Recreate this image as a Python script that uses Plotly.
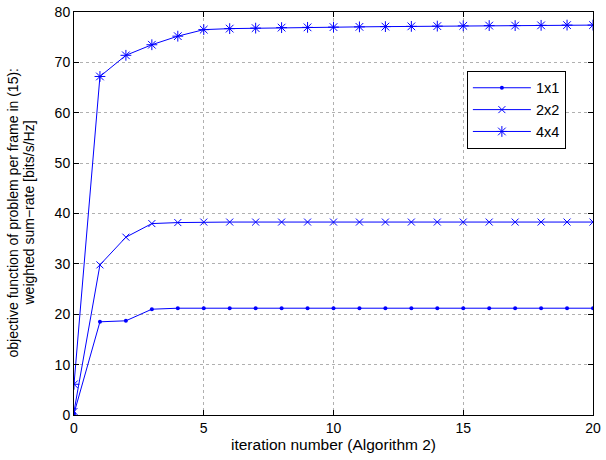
import plotly.graph_objects as go

iterations = list(range(0, 21))
rate_1x1 = [0.3, 18.5, 18.7, 21.0, 21.2, 21.2, 21.2, 21.2, 21.2, 21.2, 21.2,
            21.2, 21.2, 21.2, 21.2, 21.2, 21.2, 21.2, 21.2, 21.2, 21.2]
rate_2x2 = [0.7, 29.8, 35.3, 38.0, 38.2, 38.3, 38.3, 38.3, 38.3, 38.3, 38.3,
            38.3, 38.3, 38.3, 38.3, 38.3, 38.3, 38.3, 38.3, 38.3, 38.3]
rate_4x4 = [6.1, 67.2, 71.4, 73.5, 75.2, 76.5, 76.7, 76.8, 76.9, 76.95, 77.0,
            77.05, 77.1, 77.15, 77.2, 77.25, 77.3, 77.3, 77.35, 77.4, 77.4]
series_names = ["1x1", "2x2", "4x4"]
x_ticks = [0, 5, 10, 15, 20]
y_ticks = [0, 10, 20, 30, 40, 50, 60, 70, 80]
y_title_lines = ["objective function of problem per frame in (15):",
                 "weighted sum\u2212rate [bits/s/Hz]"]

blue = "#0000FF"
fig = go.Figure()
fig.add_trace(go.Scatter(x=iterations, y=rate_1x1, name=series_names[0], mode="lines+markers",
                         line=dict(color=blue, width=1),
                         marker=dict(symbol="circle", size=4, color=blue)))
fig.add_trace(go.Scatter(x=iterations, y=rate_2x2, name=series_names[1], mode="lines+markers",
                         line=dict(color=blue, width=1),
                         marker=dict(symbol="x-thin-open", size=7, color=blue,
                                     line=dict(color=blue, width=1))))
fig.add_trace(go.Scatter(x=iterations, y=rate_4x4, name=series_names[2], mode="lines+markers",
                         line=dict(color=blue, width=1),
                         marker=dict(symbol="asterisk-open", size=9, color=blue,
                                     line=dict(color=blue, width=1))))

axis_common = dict(
    showline=True, linecolor="black", linewidth=1, mirror="allticks",
    ticks="inside", ticklen=5, tickcolor="black",
    showgrid=True, gridcolor="#b0b0b0", griddash="dot", gridwidth=1,
    zeroline=False, tickfont=dict(size=14, color="black"),
)
fig.update_xaxes(range=[0, 20], tickvals=x_ticks,
                 title=dict(text="iteration number (Algorithm 2)", font=dict(size=15.5, color="black"), standoff=2),
                 **axis_common)
fig.update_yaxes(range=[0, 80], tickvals=y_ticks, **axis_common)

for i, line in enumerate(y_title_lines):
    fig.add_annotation(text=line, xref="paper", yref="paper", x=0, y=0.5,
                       xanchor="center", yanchor="middle", textangle=-90,
                       xshift=-(62 - 16 * i), showarrow=False,
                       font=dict(size=14, color="black"))

fig.update_layout(
    width=606, height=460,
    margin=dict(l=74, r=13, t=12, b=45, autoexpand=False),
    paper_bgcolor="white", plot_bgcolor="white",
    font=dict(family="Liberation Sans, Arial, sans-serif", size=14, color="black"),
    legend=dict(x=0.757, y=0.854, xanchor="left", yanchor="top",
                bgcolor="white", bordercolor="black", borderwidth=1,
                font=dict(size=14.5), tracegroupgap=0, itemwidth=58),
    showlegend=True,
)

fig.write_html("out.html")
